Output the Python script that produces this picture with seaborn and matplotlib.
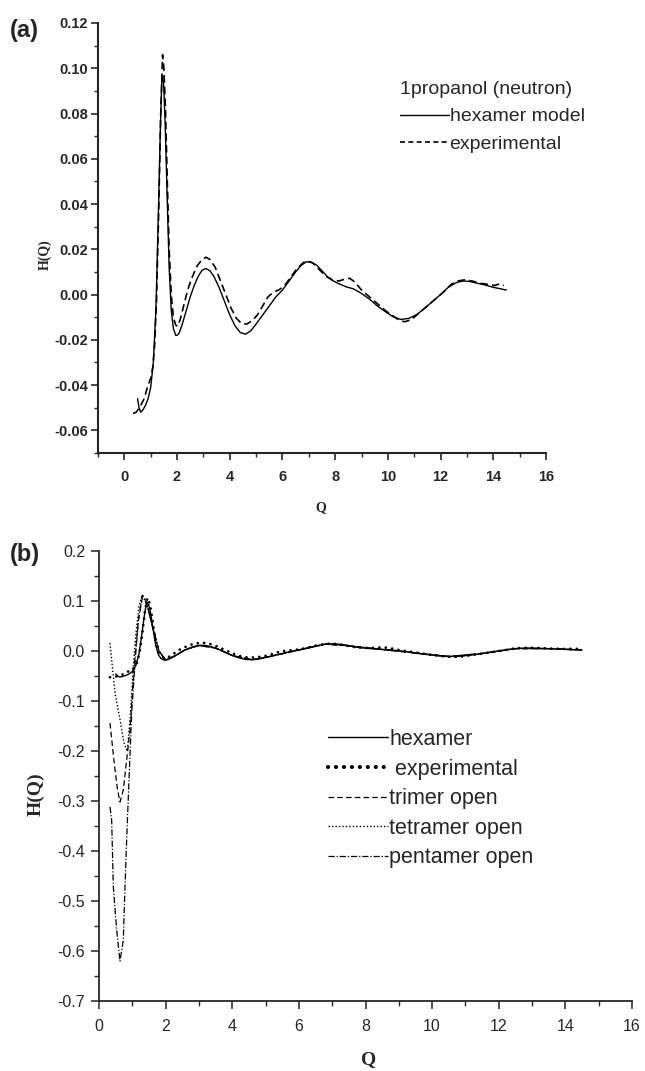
import matplotlib
matplotlib.use("Agg")
import matplotlib.pyplot as plt
from matplotlib.lines import Line2D
import seaborn as sns

# ---- panel (a): 1-propanol neutron H(Q) ----
q_hex = [0.50, 0.56, 0.62, 0.70, 0.80, 0.90, 1.00, 1.10, 1.20, 1.30, 1.37, 1.42, 1.45,
         1.49, 1.55, 1.62, 1.70, 1.78, 1.86, 1.95, 2.00, 2.08, 2.20, 2.35, 2.50, 2.65,
         2.80, 2.95, 3.10, 3.25, 3.40, 3.60, 3.80, 4.00, 4.20, 4.40, 4.60, 4.80, 5.00,
         5.25, 5.50, 5.75, 6.00, 6.25, 6.50, 6.70, 6.90, 7.10, 7.30, 7.50, 7.70, 7.90,
         8.10, 8.40, 8.70, 9.00, 9.30, 9.60, 9.90, 10.20, 10.50, 10.80, 11.10, 11.40,
         11.70, 12.00, 12.30, 12.60, 12.85, 13.10, 13.40, 13.70, 14.00, 14.30, 14.50]
h_hex = [-0.046, -0.050, -0.052, -0.051, -0.049, -0.046, -0.041, -0.030, -0.006, 0.040,
         0.075, 0.094, 0.097, 0.093, 0.075, 0.045, 0.012, -0.007, -0.015, -0.018, -0.018,
         -0.017, -0.013, -0.007, -0.001, 0.004, 0.008, 0.0108, 0.0115, 0.0105, 0.008,
         0.003, -0.003, -0.009, -0.0138, -0.0168, -0.0175, -0.016, -0.013, -0.009, -0.005,
         -0.001, 0.002, 0.006, 0.010, 0.0128, 0.0145, 0.0142, 0.013, 0.0105, 0.008, 0.0062,
         0.005, 0.0035, 0.0025, 0.0005, -0.002, -0.005, -0.0075, -0.0098, -0.011, -0.0105,
         -0.0088, -0.006, -0.003, 0.000, 0.0033, 0.0053, 0.006, 0.0058, 0.005, 0.0042,
         0.0032, 0.0025, 0.002]

q_exp = [0.33, 0.45, 0.60, 0.75, 0.90, 1.00, 1.08, 1.15, 1.22, 1.30, 1.38, 1.45, 1.50,
         1.56, 1.63, 1.70, 1.78, 1.86, 1.95, 2.02, 2.12, 2.25, 2.40, 2.55, 2.75, 2.95,
         3.10, 3.25, 3.45, 3.65, 3.85, 4.05, 4.25, 4.45, 4.65, 4.85, 5.05, 5.25, 5.45,
         5.65, 5.85, 6.05, 6.30, 6.55, 6.80, 6.95, 7.15, 7.40, 7.65, 7.90, 8.15, 8.40,
         8.55, 8.75, 9.00, 9.30, 9.60, 9.90, 10.20, 10.45, 10.65, 10.90, 11.20, 11.50,
         11.80, 12.10, 12.40, 12.65, 12.90, 13.20, 13.50, 13.80, 14.05, 14.25, 14.40]
h_exp = [-0.0525, -0.052, -0.0495, -0.046, -0.040, -0.037, -0.032, -0.022, -0.003, 0.035,
         0.080, 0.106, 0.100, 0.082, 0.050, 0.020, 0.000, -0.010, -0.0135, -0.014, -0.011,
         -0.005, 0.002, 0.007, 0.0125, 0.0155, 0.0165, 0.0155, 0.012, 0.006, 0.000,
         -0.006, -0.0105, -0.0128, -0.013, -0.0115, -0.009, -0.005, -0.001, 0.001, 0.002,
         0.0035, 0.0075, 0.0115, 0.0142, 0.0148, 0.014, 0.011, 0.008, 0.0065, 0.006, 0.007,
         0.0072, 0.0055, 0.002, -0.001, -0.004, -0.007, -0.0095, -0.0115, -0.012, -0.011,
         -0.008, -0.005, -0.002, 0.001, 0.0045, 0.006, 0.0065, 0.006, 0.005, 0.0045, 0.004,
         0.0048, 0.004]

# ---- panel (b): open-chain models (low Q part read separately, shared tail) ----
q_tri = [0.33, 0.45, 0.55, 0.63, 0.73, 0.83, 0.93, 1.02, 1.08, 1.18, 1.30, 1.42, 1.60, 1.80]
h_tri = [-0.144, -0.22, -0.275, -0.302, -0.278, -0.218, -0.158, -0.064, -0.012, 0.060,
         0.106, 0.098, 0.052, 0.000]
q_tet = [0.33, 0.48, 0.65, 0.75, 0.85, 0.95, 1.02, 1.10, 1.20, 1.30, 1.42, 1.60, 1.80]
h_tet = [0.016, -0.084, -0.144, -0.184, -0.200, -0.120, -0.040, 0.030, 0.090, 0.112,
         0.100, 0.050, 0.000]
q_pen = [0.33, 0.38, 0.43, 0.53, 0.63, 0.73, 0.78, 0.83, 0.88, 0.98, 1.08, 1.18, 1.30,
         1.45, 1.60, 1.80]
h_pen = [-0.312, -0.338, -0.472, -0.558, -0.620, -0.578, -0.472, -0.378, -0.292, -0.124,
         -0.024, 0.060, 0.112, 0.090, 0.050, 0.000]
q_tail = [2.0, 2.3, 2.6, 3.0, 3.5, 4.0, 4.6, 5.2, 6.0, 6.8, 7.5, 8.5, 9.5, 10.5,
          11.5, 12.5, 13.5, 14.5]
h_tail = [-0.018, -0.009, 0.003, 0.011, 0.006, -0.009, -0.0175, -0.010, 0.002, 0.0137,
          0.0105, 0.003, -0.004, -0.011, -0.005, 0.0048, 0.0047, 0.002]

yticks_a = [-0.06, -0.04, -0.02, 0.00, 0.02, 0.04, 0.06, 0.08, 0.10, 0.12]
ylabels_a = ["-0.06", "-0.04", "-0.02", "0.00", "0.02", "0.04", "0.06", "0.08", "0.10", "0.12"]
yticks_b = [-0.7, -0.6, -0.5, -0.4, -0.3, -0.2, -0.1, 0.0, 0.1, 0.2]
ylabels_b = ["-0.7", "-0.6", "-0.5", "-0.4", "-0.3", "-0.2", "-0.1", "0.0", "0.1", "0.2"]
xticks = [0, 2, 4, 6, 8, 10, 12, 14, 16]

sns.set_style("ticks")
plt.rcParams['font.family'] = ['Liberation Sans', 'DejaVu Sans']
SERIF = ['Liberation Serif', 'DejaVu Serif']

W, H = 645, 1071
fig = plt.figure(figsize=(W / 100, H / 100), dpi=100)


def px(x, y):
    return x / W, 1 - y / H


DASH = (0, (4.5, 2.5))
DOT = (0, (1, 1.5))
DASHDOT = (0, (5, 1.5, 1, 1.5))
BIGDOT = (0, (0.01, 2.3))

# panel (a)
ax_a = fig.add_axes([98 / W, 1 - 453 / H, 448 / W, 430 / H])
sns.lineplot(x=q_hex, y=h_hex, ax=ax_a, color='black', lw=1.0)
sns.lineplot(x=q_exp, y=h_exp, ax=ax_a, color='black', lw=1.2, linestyle=DASH)
ax_a.set_xlim(-1, 16)
ax_a.set_ylim(-0.07, 0.12)
ax_a.set_xticks(xticks)
ax_a.set_xticks(range(-1, 16, 2), minor=True)
ax_a.set_yticks(yticks_a)
ax_a.set_yticklabels(ylabels_a)
ax_a.set_yticks([v / 100 for v in range(-7, 13, 2)], minor=True)
ax_a.set_xlabel("")
ax_a.set_ylabel("")
for lab in ax_a.get_xticklabels() + ax_a.get_yticklabels():
    lab.set_fontweight('bold')
    lab.set_fontsize(10.5)
ax_a.tick_params(axis='both', which='major', direction='out', length=5, width=1.2)
ax_a.tick_params(axis='both', which='minor', direction='out', length=3, width=1.0)
ax_a.tick_params(axis='y', pad=2)
ax_a.tick_params(axis='x', pad=7)
sns.despine(ax=ax_a)
for s in ['left', 'bottom']:
    ax_a.spines[s].set_linewidth(1.5)

hand_a = [Line2D([], [], color='black', lw=1.0),
          Line2D([], [], color='black', lw=1.2, linestyle=(0, (3, 2)))]
ax_a.legend(hand_a, ["hexamer model", "experimental"], title="1propanol (neutron)",
            loc='upper left', bbox_to_anchor=px(400, 81),
            bbox_transform=fig.transFigure, frameon=False, fontsize=14,
            title_fontsize=14, handlelength=2.5, handletextpad=0.05,
            labelspacing=0.5, borderpad=0, borderaxespad=0, alignment='left')

fig.text(*px(10, 31), "(a)", fontsize=17, fontweight='bold', va='center', ha='left')
fig.text(*px(45, 255), "H(Q)", family=SERIF, fontsize=10, fontweight='bold',
         rotation=90, va='center', ha='center')
fig.text(*px(321, 508), "Q", family=SERIF, fontsize=10, fontweight='bold',
         va='center', ha='center')

# panel (b)
ax_b = fig.add_axes([99 / W, 1 - 1001 / H, 533 / W, 450 / H])
sns.lineplot(x=q_tri + q_tail, y=h_tri + h_tail, ax=ax_b, color='black', lw=0.9, linestyle=DASH)
sns.lineplot(x=q_tet + q_tail, y=h_tet + h_tail, ax=ax_b, color='black', lw=1.0, linestyle=DOT)
sns.lineplot(x=q_pen + q_tail, y=h_pen + h_tail, ax=ax_b, color='black', lw=0.9, linestyle=DASHDOT)
sns.lineplot(x=q_hex, y=h_hex, ax=ax_b, color='black', lw=1.0)
sns.lineplot(x=q_exp, y=h_exp, ax=ax_b, color='black', lw=2.0, linestyle=BIGDOT,
             dash_capstyle='round')
ax_b.set_xlim(0, 16)
ax_b.set_ylim(-0.7, 0.2)
ax_b.set_xticks(xticks)
ax_b.set_xticks(range(1, 16, 2), minor=True)
ax_b.set_yticks(yticks_b)
ax_b.set_yticklabels(ylabels_b)
ax_b.set_yticks([v / 100 for v in range(-65, 20, 10)], minor=True)
ax_b.set_xlabel("")
ax_b.set_ylabel("")
for lab in ax_b.get_xticklabels() + ax_b.get_yticklabels():
    lab.set_fontsize(11.5)
ax_b.tick_params(axis='both', which='major', direction='out', length=6, width=1.1)
ax_b.tick_params(axis='both', which='minor', direction='out', length=3.5, width=1.0)
ax_b.tick_params(axis='y', pad=4)
ax_b.tick_params(axis='x', pad=7)
sns.despine(ax=ax_b)
for s in ['left', 'bottom']:
    ax_b.spines[s].set_linewidth(1.3)

hand_b = [Line2D([], [], color='black', lw=1.0),
          Line2D([], [], color='black', lw=3.0, linestyle=(0, (0.01, 1.9)), dash_capstyle='round'),
          Line2D([], [], color='black', lw=0.9, linestyle=DASH),
          Line2D([], [], color='black', lw=1.0, linestyle=DOT),
          Line2D([], [], color='black', lw=0.9, linestyle=DASHDOT)]
ax_b.legend(hand_b, ["hexamer", " experimental", "trimer open", "tetramer open", "pentamer open"],
            loc='upper left', bbox_to_anchor=px(328, 729), bbox_transform=fig.transFigure,
            frameon=False, fontsize=15.5, handlelength=2.8, handletextpad=0.05,
            labelspacing=0.4, borderpad=0, borderaxespad=0)

fig.text(*px(10, 555), "(b)", fontsize=17, fontweight='bold', va='center', ha='left')
fig.text(*px(36, 794), "H(Q)", family=SERIF, fontsize=14, fontweight='bold',
         rotation=90, va='center', ha='center')
fig.text(*px(369, 1060), "Q", family=SERIF, fontsize=14, fontweight='bold',
         va='center', ha='center')

fig.savefig("out.png", dpi=100)
